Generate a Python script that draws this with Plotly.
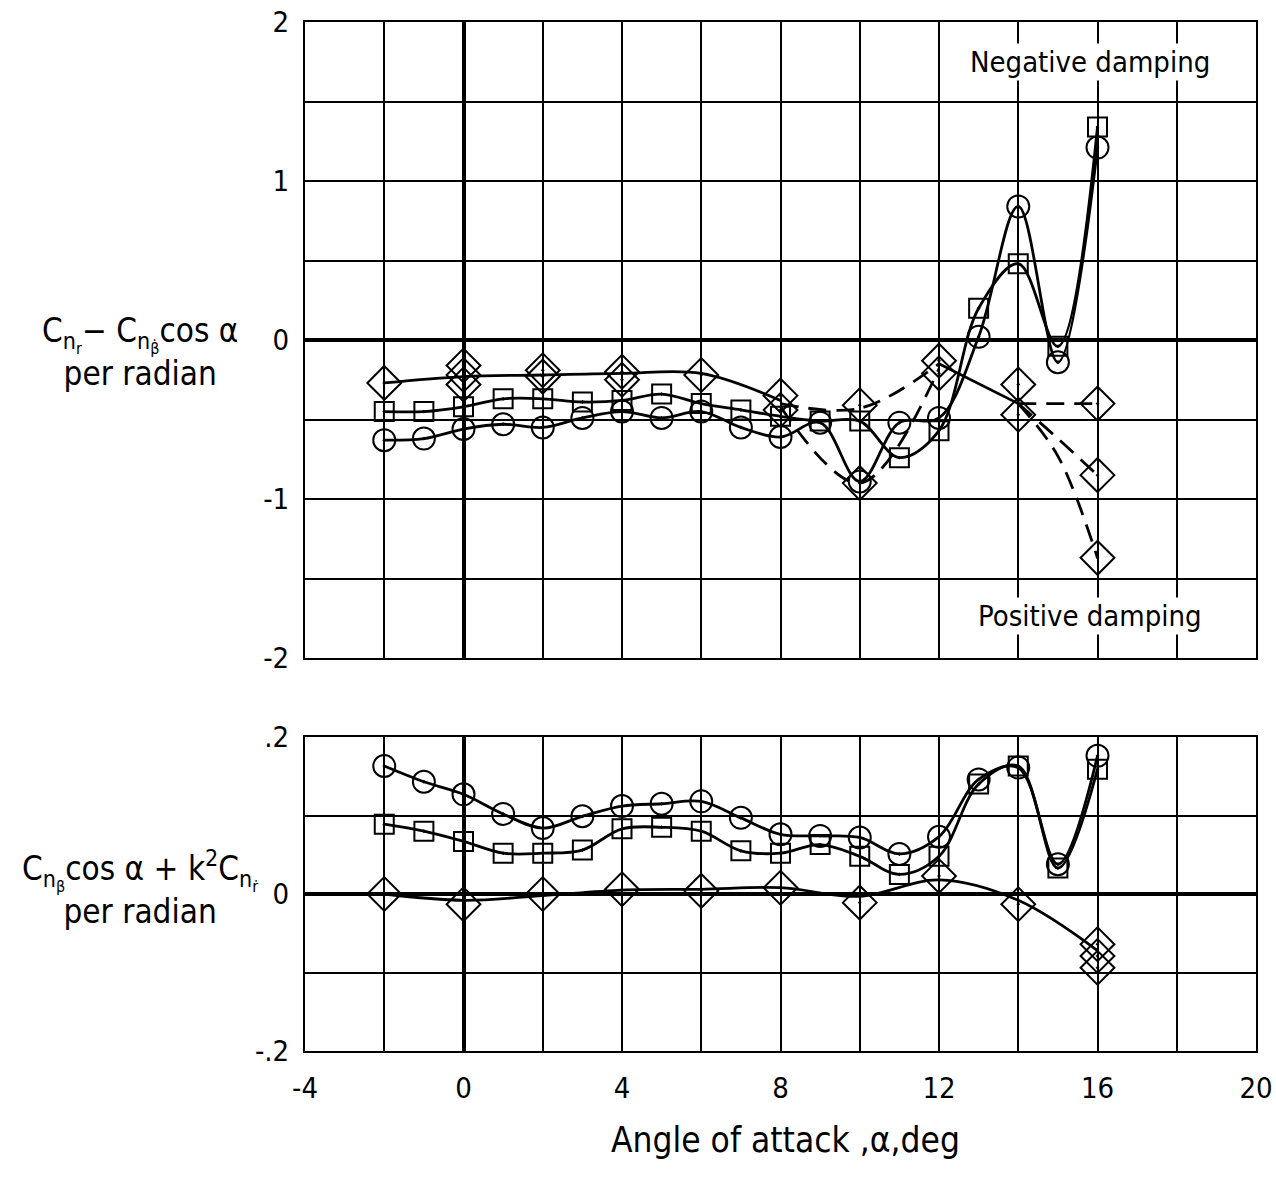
import plotly.graph_objects as go

# ---------------- data ----------------
alpha = [-2, -1, 0, 1, 2, 3, 4, 5, 6, 7, 8, 9, 10, 11, 12, 13, 14, 15, 16]

# upper panel: Cnr - Cnbetadot cos(alpha)
top_circle = [-0.63, -0.62, -0.56, -0.53, -0.55, -0.49, -0.45, -0.49, -0.45, -0.55,
              -0.61, -0.52, -0.89, -0.52, -0.49, 0.02, 0.84, -0.14, 1.21]
top_square = [-0.45, -0.45, -0.42, -0.37, -0.37, -0.39, -0.38, -0.34, -0.40, -0.44,
              -0.48, -0.51, -0.51, -0.74, -0.57, 0.20, 0.48, -0.04, 1.34]

top_diamond_x = [-2, 0, 0, 0, 2, 2, 4, 4, 6, 8, 8, 10, 10, 12, 12, 14, 14, 16, 16, 16]
top_diamond_y = [-0.27, -0.16, -0.22, -0.28, -0.19, -0.23, -0.20, -0.25, -0.22, -0.35,
                 -0.44, -0.41, -0.90, -0.13, -0.21, -0.28, -0.47, -0.40, -0.85, -1.37]

# faired diamond curves (upper panel)
dia_solid_a_x = [-2, 0, 2, 4, 6, 8]
dia_solid_a_y = [-0.27, -0.23, -0.22, -0.21, -0.21, -0.38]
dia_dash_a_x = [8, 10, 12]
dia_dash_a_y = [-0.40, -0.43, -0.15]
dia_dash_b_x = [8, 10, 12]
dia_dash_b_y = [-0.42, -0.90, -0.18]
dia_solid_b_x = [12, 14]
dia_solid_b_y = [-0.15, -0.40]
dia_dash_c_x = [14, 16]
dia_dash_c_y = [-0.40, -0.40]
dia_dash_d_x = [14, 15, 16]
dia_dash_d_y = [-0.40, -0.62, -0.85]
dia_dash_e_x = [14, 15, 16]
dia_dash_e_y = [-0.40, -0.73, -1.37]

# lower panel: Cnbeta cos(alpha) + k^2 Cnrdot
bot_circle = [0.163, 0.143, 0.127, 0.102, 0.084, 0.099, 0.112, 0.115, 0.118, 0.097,
              0.076, 0.074, 0.072, 0.051, 0.073, 0.146, 0.161, 0.038, 0.176]
bot_square = [0.089, 0.080, 0.067, 0.052, 0.052, 0.056, 0.083, 0.085, 0.080, 0.055,
              0.052, 0.063, 0.048, 0.025, 0.048, 0.140, 0.163, 0.033, 0.159]
bot_diamond_x = [-2, 0, 2, 4, 6, 8, 10, 12, 14, 16, 16, 16]
bot_diamond_y = [0.0, -0.013, 0.0, 0.006, 0.004, 0.008, -0.011, 0.023, -0.013,
                 -0.064, -0.079, -0.094]
bot_dia_line_x = [-2, 0, 2, 4, 6, 8, 10, 12, 14, 16]
bot_dia_line_y = [0.0, -0.008, -0.002, 0.005, 0.006, 0.008, -0.003, 0.018, -0.008, -0.072]

x_ticks = [-4, 0, 4, 8, 12, 16, 20]
top_y_ticks = [-2, -1, 0, 1, 2]
bot_y_ticks = [-0.2, 0, 0.2]
bot_y_ticktext = ["-.2", "0", ".2"]

# ---------------- figure ----------------
FONT = "DejaVu Sans Condensed, Liberation Sans Narrow, DejaVu Sans, sans-serif"
fig = go.Figure()

def mk(symbol, size):
    return dict(symbol=symbol, size=size, color="black",
                line=dict(color="black", width=2))

def line_trace(x, y, dash, xa, ya, width=2.8):
    fig.add_trace(go.Scatter(x=x, y=y, mode="lines", xaxis=xa, yaxis=ya,
                             line=dict(color="black", width=width, dash=dash,
                                       shape="spline", smoothing=1.0),
                             showlegend=False, hoverinfo="skip"))

LW = 2.8
# upper panel
fig.add_trace(go.Scatter(x=alpha, y=top_circle, mode="lines+markers",
                         line=dict(color="black", width=LW, shape="spline", smoothing=1.0),
                         marker=mk("circle-open-dot", 22), showlegend=False))
fig.add_trace(go.Scatter(x=alpha, y=top_square, mode="lines+markers",
                         line=dict(color="black", width=LW, shape="spline", smoothing=1.0),
                         marker=mk("square-open-dot", 19), showlegend=False))
line_trace(dia_solid_a_x, dia_solid_a_y, "solid", "x", "y")
line_trace(dia_dash_a_x, dia_dash_a_y, "18px,10px", "x", "y")
line_trace(dia_dash_b_x, dia_dash_b_y, "18px,10px", "x", "y")
line_trace(dia_solid_b_x, dia_solid_b_y, "solid", "x", "y")
line_trace(dia_dash_c_x, dia_dash_c_y, "18px,10px", "x", "y")
line_trace(dia_dash_d_x, dia_dash_d_y, "18px,10px", "x", "y")
line_trace(dia_dash_e_x, dia_dash_e_y, "18px,10px", "x", "y")
fig.add_trace(go.Scatter(x=top_diamond_x, y=top_diamond_y, mode="markers",
                         marker=mk("diamond-open-dot", 26), showlegend=False))

# lower panel
fig.add_trace(go.Scatter(x=alpha, y=bot_circle, mode="lines+markers", xaxis="x2", yaxis="y2",
                         line=dict(color="black", width=LW, shape="spline", smoothing=1.0),
                         marker=mk("circle-open-dot", 22), showlegend=False))
fig.add_trace(go.Scatter(x=alpha, y=bot_square, mode="lines+markers", xaxis="x2", yaxis="y2",
                         line=dict(color="black", width=LW, shape="spline", smoothing=1.0),
                         marker=mk("square-open-dot", 19), showlegend=False))
line_trace(bot_dia_line_x, bot_dia_line_y, "solid", "x2", "y2")
fig.add_trace(go.Scatter(x=bot_diamond_x, y=bot_diamond_y, mode="markers", xaxis="x2", yaxis="y2",
                         marker=mk("diamond-open-dot", 26), showlegend=False))

W, H = 1276, 1189

def px(p):
    return p / W

def py(p):
    return (H - p) / H

xdom = [px(305), px(1256)]
grid = dict(showgrid=True, gridcolor="black", gridwidth=2, automargin=False,
            showline=True, linecolor="black", linewidth=2, mirror=True,
            zeroline=True, zerolinecolor="black", zerolinewidth=4,
            ticklabeloverflow="allow",
            ticks="", tickfont=dict(family=FONT, size=29, color="black"))

fig.update_layout(
    width=W, height=H,
    margin=dict(l=0, r=0, t=0, b=0, pad=0),
    paper_bgcolor="white", plot_bgcolor="white",
    showlegend=False,
    xaxis=dict(domain=xdom, range=[-4, 20], anchor="y", tickvals=x_ticks,
               showticklabels=False,
               minor=dict(dtick=2, tick0=0, showgrid=True, gridcolor="black", gridwidth=2),
               **grid),
    yaxis=dict(domain=[py(658), py(22)], range=[-2, 2], anchor="x",
               tickvals=top_y_ticks, ticktext=[str(v) for v in top_y_ticks],
               ticklabelstandoff=8,
               minor=dict(dtick=0.5, tick0=0, showgrid=True, gridcolor="black", gridwidth=2),
               **grid),
    xaxis2=dict(domain=xdom, range=[-4, 20], anchor="y2", tickvals=x_ticks,
                ticktext=[str(v) for v in x_ticks], ticklabelstandoff=10,
                minor=dict(dtick=2, tick0=0, showgrid=True, gridcolor="black", gridwidth=2),
                **grid),
    yaxis2=dict(domain=[py(1051), py(737)], range=[-0.2, 0.2], anchor="x2",
                tickvals=bot_y_ticks, ticktext=bot_y_ticktext, ticklabelstandoff=8,
                minor=dict(dtick=0.1, tick0=0, showgrid=True, gridcolor="black", gridwidth=2),
                **grid),
)

afont = dict(family=FONT, size=33, color="black")
fig.add_annotation(xref="paper", yref="paper", x=px(140), y=py(352),
                   xanchor="center", yanchor="middle",
                   text="C<sub>n<sub>r</sub></sub>\u2212 C<sub>n<sub>\u03b2\u0307</sub></sub>cos \u03b1<br>per radian",
                   showarrow=False, font=afont, align="center")
fig.add_annotation(xref="paper", yref="paper", x=px(140), y=py(888),
                   xanchor="center", yanchor="middle",
                   text="C<sub>n<sub>\u03b2</sub></sub>cos \u03b1 + k<sup>2</sup>C<sub>n<sub>\u1e59</sub></sub><br>per radian",
                   showarrow=False, font=afont, align="center")
fig.add_annotation(xref="paper", yref="paper", x=px(1090), y=py(62),
                   xanchor="center", yanchor="middle",
                   text="Negative damping", showarrow=False,
                   font=dict(family=FONT, size=29, color="black"), bgcolor="white")
fig.add_annotation(xref="paper", yref="paper", x=px(1090), y=py(616),
                   xanchor="center", yanchor="middle",
                   text="Positive damping", showarrow=False,
                   font=dict(family=FONT, size=29, color="black"), bgcolor="white")
fig.add_annotation(xref="paper", yref="paper", x=px(785), y=py(1140),
                   xanchor="center", yanchor="middle",
                   text="Angle of attack ,\u03b1,deg", showarrow=False,
                   font=dict(family=FONT, size=35, color="black"))

# remove the default 8px page margin so the figure fills the window exactly
fig.write_html("out.html",
               config={"displayModeBar": False},
               post_script="document.body.style.margin='0';document.body.style.overflow='hidden';")
